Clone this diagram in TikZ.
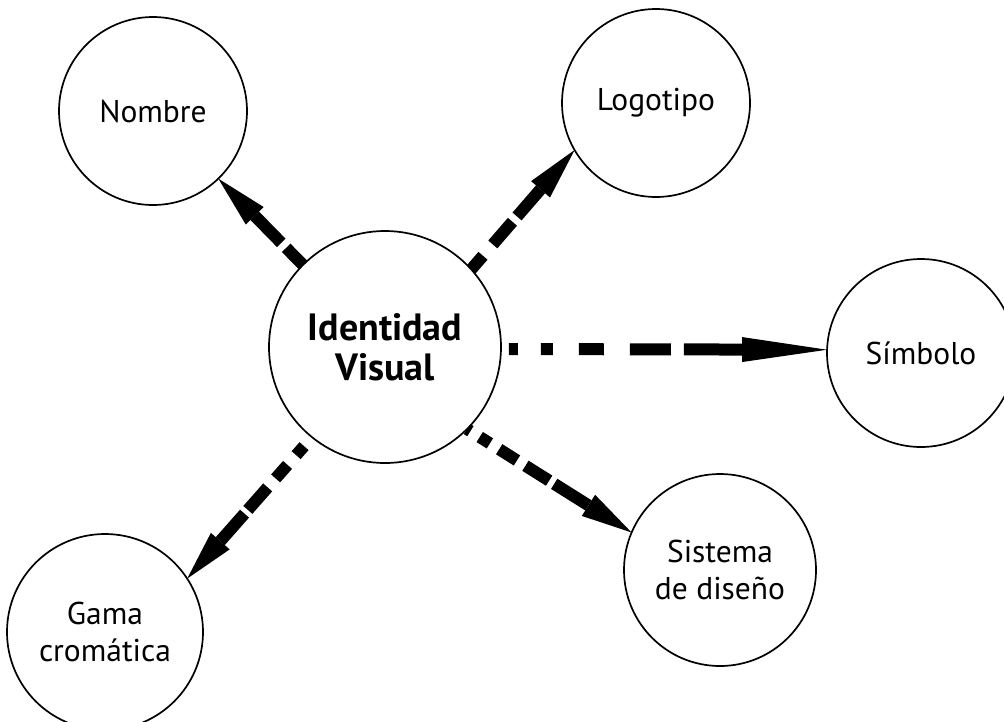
\documentclass[tikz,border=0pt]{standalone}
\usepackage{fontspec}
\setmainfont{PT Sans}
\usetikzlibrary{arrows.meta}
\pgfdeclarelayer{bg}
\pgfsetlayers{bg,main}
\begin{document}
\begin{tikzpicture}[x=1pt,y=-1pt,
  bubble/.style={circle,draw=black,line width=1.7pt,fill=white,inner sep=0pt,outer sep=0pt,minimum size=#1,align=center,font=\fontsize{31.5}{37}\selectfont},
  flecha/.style={line width=12pt,-{Triangle[length=#1,width=25pt,line width=0pt]}},
]
\useasboundingbox (0,0) rectangle (1004,721);
\node[bubble=232pt,font=\fontsize{38}{40}\selectfont\bfseries] (iv) at (385,347) {Identidad\\Visual};
\node[bubble=188pt] (nom) at (153,111) {Nombre};
\node[bubble=188pt] (logo) at (656,103) {Logotipo};
\node[bubble=188pt] (sim) at (921,353) {Símbolo};
\node[bubble=196pt] (gama) at (105,632) {Gama\\cromática};
\node[bubble=192pt] (sis) at (720,570) {Sistema\\de diseño};
\begin{pgfonlayer}{bg}
\draw[flecha=52pt, dash pattern=on 24pt off 7pt on 300pt] (iv.135.7) -- (nom.-46.3);
\draw[flecha=52pt, dash pattern=on 18pt off 15pt on 30pt off 7pt on 300pt] (iv.42.2) -- (logo.210.1);
\draw[flecha=85pt, shorten <=8pt, dash pattern=on 9pt off 23pt on 12pt off 26pt on 25pt off 26pt on 41pt off 13pt on 400pt] (iv.-1.7) -- (sim.178.5);
\draw[flecha=50pt, shorten <=12pt, dash pattern=on 12pt off 13pt on 18pt off 12pt on 30pt off 5pt on 300pt] (iv.231.5) -- (gama.33);
\draw[flecha=51pt, dash pattern=on 4pt off 11pt on 12pt off 11pt on 21pt off 10pt on 28pt off 6pt on 300pt] (iv.-45.7) -- (sis.157.6);
\end{pgfonlayer}
\end{tikzpicture}
\end{document}
